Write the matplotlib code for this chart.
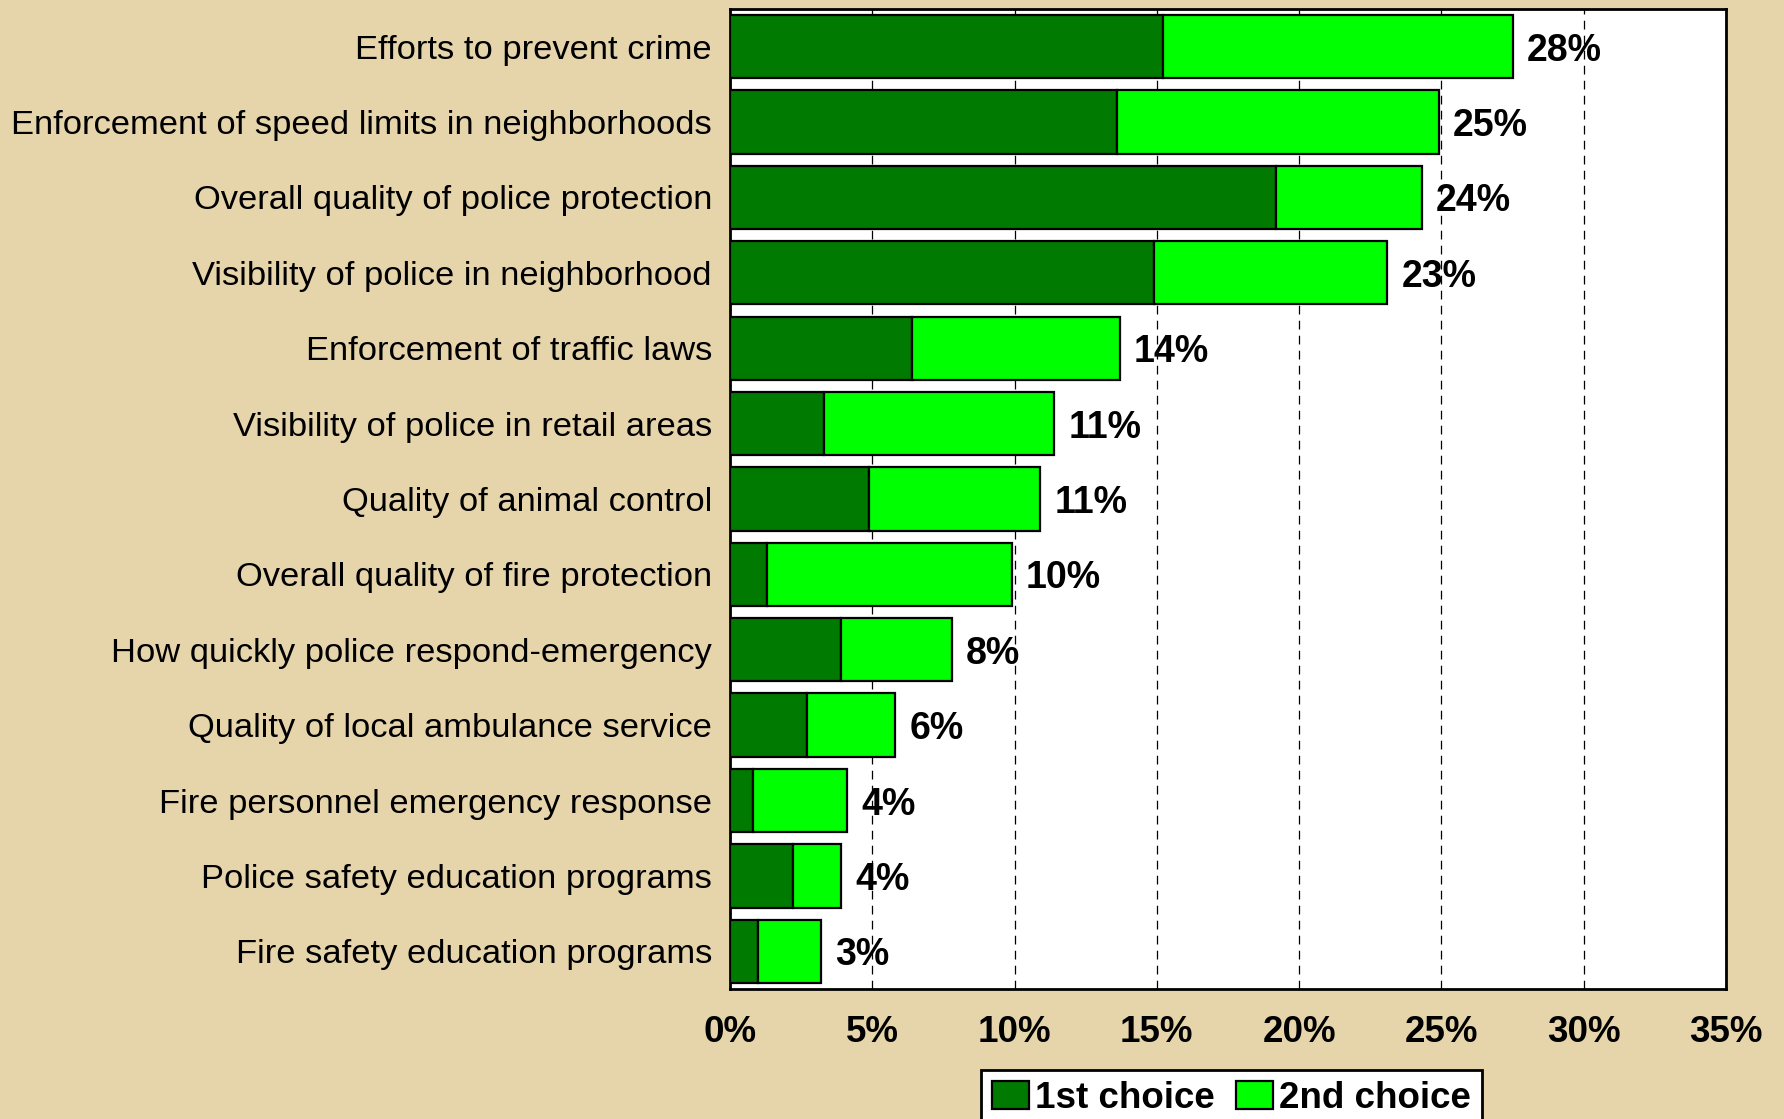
import numpy as np
import matplotlib.pyplot as plt

# categories, top to bottom
categorias = [
    "Efforts to prevent crime",
    "Enforcement of speed limits in neighborhoods",
    "Overall quality of police protection",
    "Visibility of police in neighborhood",
    "Enforcement of traffic laws",
    "Visibility of police in retail areas",
    "Quality of animal control",
    "Overall quality of fire protection",
    "How quickly police respond-emergency",
    "Quality of local ambulance service",
    "Fire personnel emergency response",
    "Police safety education programs",
    "Fire safety education programs",
]
primera = [15.2, 13.6, 19.2, 14.9, 6.4, 3.3, 4.9, 1.3, 3.9, 2.7, 0.8, 2.2, 1.0]
segunda = [12.3, 11.3, 5.1, 8.2, 7.3, 8.1, 6.0, 8.6, 3.9, 3.1, 3.3, 1.7, 2.2]
etiquetas = ["28%", "25%", "24%", "23%", "14%", "11%", "11%", "10%", "8%", "6%", "4%", "4%", "3%"]
ticks_x = [0, 5, 10, 15, 20, 25, 30, 35]

fondo = "#E6D5AB"
verde_osc = "#007A00"
verde_cla = "#00FF00"

plt.rcParams['font.family'] = ['Liberation Sans', 'DejaVu Sans']

fig = plt.figure(figsize=(17.84, 11.19), dpi=100, facecolor=fondo)
ax = fig.add_axes([0.4092, 0.1162, 0.5583, 0.8758])
ax.set_facecolor("white")

y = np.arange(len(categorias))
primera = np.array(primera)
segunda = np.array(segunda)
total = primera + segunda

ax.barh(y, primera, height=0.84, color=verde_osc, edgecolor="black", linewidth=1.6,
        label="1st choice", zorder=3)
ax.barh(y, segunda, left=primera, height=0.84, color=verde_cla, edgecolor="black",
        linewidth=1.6, label="2nd choice", zorder=3)

for yi, t, lab in zip(y, total, etiquetas):
    ax.text(t + 0.5, yi, lab, va="center_baseline", ha="left", fontsize=27,
            fontweight="bold", zorder=4)

ax.set_xlim(0, 35)
ax.set_ylim(12.5, -0.5)
ax.set_xticks(ticks_x)
ax.set_xticklabels([f"{v}%" for v in ticks_x], fontsize=26.5, fontweight="bold")
ax.set_yticks(y)
ax.set_yticklabels(categorias, fontsize=24.8)
ax.tick_params(axis='both', length=0)
ax.tick_params(axis='y', pad=13)
ax.tick_params(axis='x', pad=19)

# rejilla vertical discontinua
ax.grid(True, axis='x', color="black", linestyle=(0, (7, 5)), linewidth=0.9, zorder=1)
ax.set_axisbelow(True)
for spine in ax.spines.values():
    spine.set_linewidth(2)
    spine.set_color("black")

leg = fig.legend(loc="upper left", bbox_to_anchor=(0.55, 0.0442), ncol=2,
                 prop={'size': 26.5, 'weight': 'bold'}, frameon=True, fancybox=False,
                 edgecolor="black", handlelength=1.0, handleheight=0.8,
                 handletextpad=0.15, columnspacing=0.6, borderpad=0.3,
                 borderaxespad=0)
leg.get_frame().set_linewidth(2)
leg.get_frame().set_facecolor("white")
leg.get_frame().set_alpha(1)

fig.savefig("out.png", dpi=100, facecolor=fondo)
